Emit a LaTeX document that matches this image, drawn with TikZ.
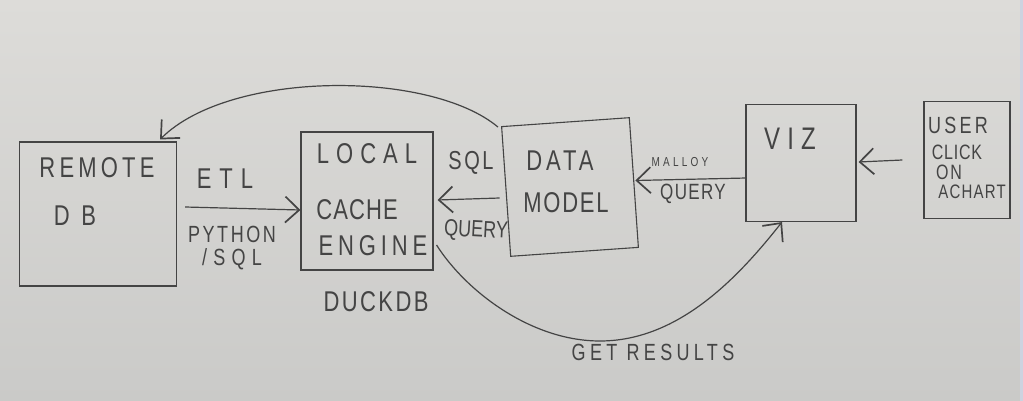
\documentclass[tikz,border=0pt]{standalone}
\usepackage{fontspec}
\setmainfont{Liberation Sans}
\usetikzlibrary{arrows.meta}
\definecolor{paperTop}{RGB}{221,220,217}
\definecolor{paperBot}{RGB}{202,202,200}
\definecolor{pencil}{RGB}{68,68,68}
\definecolor{edgestrip}{RGB}{205,211,224}
\newcommand{\tallhw}[1]{\scalebox{1}[1.3]{#1}}
\begin{document}
\begin{tikzpicture}[x=1pt,y=-1pt,
  box/.style={draw=pencil,line width=1.1pt,inner sep=0pt},
  hw/.style 2 args={text=pencil,inner sep=0pt,font=\fontsize{#1}{#1}\selectfont\addfontfeature{LetterSpace=#2}},
  conn/.style={draw=pencil,line width=1.2pt,-{Straight Barb[length=14pt,width=26pt,line width=1.7pt]}}
]
\useasboundingbox (0,0) rectangle (1023,401);
\fill[top color=paperTop,bottom color=paperBot] (0,0) rectangle (1020,401);
\fill[edgestrip] (1020,0) rectangle (1023,401);

% boxes
\node[box,minimum width=157pt,minimum height=144pt] (remote) at (98,214) {};
\node[box,minimum width=132pt,minimum height=138pt] (local) at (367,201) {};
\node[box,minimum width=128pt,minimum height=130pt,rotate=4] (model) at (570,187) {};
\node[box,minimum width=110pt,minimum height=117pt] (viz) at (801,163) {};
\node[box,minimum width=86pt,minimum height=117pt] (user) at (967,160) {};

% texts in boxes
\node[hw={22}{19}] (tRemote) at (97,168) {\tallhw{REMOTE}};
\node[hw={22}{25}] (tDB) at (75,216) {\tallhw{D B}};
\node[hw={22}{32}] (tLocal) at (367,154) {\tallhw{LOCAL}};
\node[hw={22}{5}] (tCache) at (357,210) {\tallhw{CACHE}};
\node[hw={22}{22}] (tEngine) at (373,246) {\tallhw{ENGINE}};
\node[hw={22}{18}] (tData) at (560,161) {\tallhw{DATA}};
\node[hw={22}{8}] (tModel) at (566,203) {\tallhw{MODEL}};
\node[hw={24}{30}] (tViz) at (790,139) {\tallhw{VIZ}};
\node[hw={18}{18}] (tUser) at (958,125) {\tallhw{USER}};
\node[hw={16}{5}] (tClick) at (957,152) {\tallhw{CLICK}};
\node[hw={16}{12}] (tOn) at (949,172) {\tallhw{ON}};
\node[hw={15}{8}] (tChart) at (972,192) {\tallhw{ACHART}};

% labels
\node[hw={22}{36}] (tETL) at (225,179) {\tallhw{ETL}};
\node[hw={18}{14}] (tPython) at (232,234) {\tallhw{PYTHON}};
\node[hw={18}{35}] (tSQLb) at (232,259) {\tallhw{/SQL}};
\node[hw={22}{11}] (tDuck) at (376,302) {\tallhw{DUCKDB}};
\node[hw={20}{13}] (tSQL) at (471,163) {\tallhw{SQL}};
\node[hw={18}{0},rotate=-3] (tQuery) at (476,231) {\tallhw{QUERY}};
\node[hw={10}{32}] (tMalloy) at (680,162) {\tallhw{MALLOY}};
\node[hw={17}{8}] (tQuery2) at (693,194) {\tallhw{QUERY}};
\node[hw={18}{24}] (tResults) at (653,352) {\tallhw{GET RESULTS}};

% connectors
\draw[conn] ([shift={(8,-7)}]remote.east) -- ([shift={(0,9)}]local.west);
\draw[conn] ([shift={(-6,6.5)}]model.west) -- ([shift={(4,-1)}]local.east);
\draw[conn] ([shift={(1,15)}]viz.west) -- ([shift={(1,-2)}]model.east);
\draw[conn] ([shift={(-21,0)}]user.west) -- ([shift={(2,-1)}]viz.east);
\draw[conn] ([shift={(-3,1)}]model.north west) .. controls (430,70) and (230,70) .. ([shift={(-17,-2)}]remote.north east);
\draw[conn] ([shift={(3,44)}]local.east) .. controls (465,290) and (530,341) .. (600,341)
  .. controls (680,341) and (740,275) .. ([shift={(-19,0)}]viz.south);
\end{tikzpicture}
\end{document}
